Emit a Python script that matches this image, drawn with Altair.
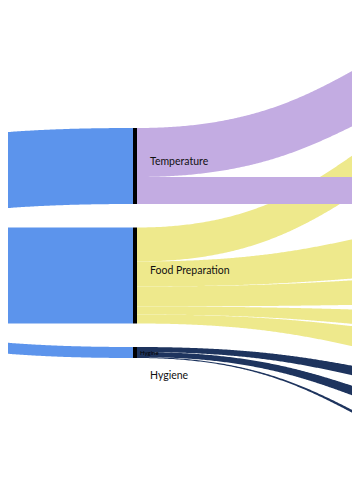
import altair as alt
import numpy as np
import pandas as pd

# ---------------- data ----------------
total_name = "All Violations"
categories = ["Temperature", "Food Preparation", "Hygiene"]
category_colors = ["#C3ACE2", "#EEE98C", "#1E345E"]
total_color = "#5C94EC"

# category -> sub-category flows (value at the category side)
link_source = ["Temperature", "Temperature",
               "Food Preparation", "Food Preparation", "Food Preparation",
               "Food Preparation", "Food Preparation",
               "Hygiene", "Hygiene", "Hygiene"]
link_target = ["Cold Holding", "Hot Holding",
               "Cross-Contamination", "Cooking", "Cooling", "Thawing", "Reheating",
               "Handwashing", "Glove Use", "Hair Restraints"]
link_value = [98, 54, 68, 50, 40, 16, 18, 10, 10, 2]

# sub-category nodes (right column, top to bottom) and their totals
sub_nodes = ["Cold Holding", "Cross-Contamination", "Hot Holding", "Cooking", "Cooling",
             "Thawing", "Reheating", "Handwashing", "Glove Use", "Hair Restraints"]
sub_node_value = [126, 98, 54, 112, 60, 44, 66, 30, 30, 10]

small_label = "Hygine"

# ---------------- layout (page pixel space) ----------------
PX = 0.5                      # pixels per unit
COL_LEFT, COL_MID, COL_RIGHT = -267, 133, 587
NODE_W = 4
LEFT_TOP = 151
MID_TOP, MID_PAD = 128, 23.5
RIGHT_TOP = 3
RIGHT_GAPS = [4, 58, 9, 4, 10, 5, 15, 23, 32]
X_MIN, X_MAX = 8, 352
Y_MIN, Y_MAX = 8, 478

cat_total = {c: sum(v for s, v in zip(link_source, link_value) if s == c) for c in categories}

# middle nodes
mid = {}
y = MID_TOP
for c in categories:
    h = cat_total[c] * PX
    mid[c] = [y, y + h]
    y += h + MID_PAD

# right nodes
right = {}
y = RIGHT_TOP
for i, n in enumerate(sub_nodes):
    h = sub_node_value[i] * PX
    right[n] = [y, y + h]
    y += h + (RIGHT_GAPS[i] if i < len(RIGHT_GAPS) else 0)


def ribbon(x0, x1, s_top, s_bot, t_top, t_bot, n=300):
    t = np.linspace(0, 1, n)
    xm = (x0 + x1) / 2
    x = (1 - t) ** 3 * x0 + 3 * (1 - t) ** 2 * t * xm + 3 * (1 - t) * t ** 2 * xm + t ** 3 * x1
    yf = 3 * t ** 2 - 2 * t ** 3
    top = s_top + (t_top - s_top) * yf
    bot = s_bot + (t_bot - s_bot) * yf
    keep = (x > X_MIN - 30) & (x < X_MAX + 30)
    return x[keep], top[keep], bot[keep]


rows = []
# total -> categories
sy = LEFT_TOP
for c in categories:
    h = cat_total[c] * PX
    xs, tp, bt = ribbon(COL_LEFT, COL_MID, sy, sy + h, mid[c][0], mid[c][1])
    for a, b, d in zip(xs, tp, bt):
        rows.append({"link": total_name + ">" + c, "group": total_name, "x": a, "y0": b, "y1": d})
    sy += h

# categories -> sub-categories
offset = {c: mid[c][0] for c in categories}
for s, t_, v in zip(link_source, link_target, link_value):
    h = v * PX
    s0 = offset[s]
    offset[s] += h
    xs, tp, bt = ribbon(COL_MID + NODE_W, COL_RIGHT, s0, s0 + h, right[t_][0], right[t_][1])
    for a, b, d in zip(xs, tp, bt):
        rows.append({"link": s + ">" + t_, "group": s, "x": a, "y0": b, "y1": d})

links_df = pd.DataFrame(rows)

nodes_df = pd.DataFrame({
    "name": categories,
    "x0": [COL_MID] * len(categories),
    "x1": [COL_MID + NODE_W] * len(categories),
    "top": [mid[c][0] for c in categories],
    "bottom": [mid[c][1] for c in categories],
})


def label_y(c):
    t0, t1 = mid[c]
    if t1 - t0 < 20:
        return t1 + 18
    return (t0 + t1) / 2 - 4.5


labels_df = pd.DataFrame({
    "name": categories,
    "x": [COL_MID + NODE_W + 13] * len(categories),
    "y": [label_y(c) for c in categories],
})
small_df = pd.DataFrame({"name": [small_label], "x": [COL_MID + NODE_W + 3],
                         "y": [(mid["Hygiene"][0] + mid["Hygiene"][1]) / 2]})

xs_ = alt.Scale(domain=[X_MIN, X_MAX], nice=False, zero=False)
ys_ = alt.Scale(domain=[Y_MIN, Y_MAX], nice=False, zero=False, reverse=True)
cscale = alt.Scale(domain=[total_name] + categories, range=[total_color] + category_colors)

base = alt.Chart(links_df)


def layer_for(group):
    return base.transform_filter(alt.datum.group == group).mark_area(
        clip=True, interpolate="linear", opacity=1
    ).encode(
        x=alt.X("x:Q", scale=xs_, axis=None),
        y=alt.Y("y0:Q", scale=ys_, axis=None),
        y2="y1:Q",
        color=alt.Color("group:N", scale=cscale, legend=None),
        detail="link:N",
    )


layers = [layer_for(total_name), layer_for("Food Preparation"),
          layer_for("Temperature"), layer_for("Hygiene")]

node_layer = alt.Chart(nodes_df).mark_rect(color="#000000", clip=True).encode(
    x=alt.X("x0:Q", scale=xs_, axis=None), x2="x1:Q",
    y=alt.Y("top:Q", scale=ys_, axis=None), y2="bottom:Q",
)

label_layer = alt.Chart(labels_df).mark_text(
    align="left", baseline="middle", font="Lato", fontSize=10.5, color="#111111"
).encode(
    x=alt.X("x:Q", scale=xs_, axis=None),
    y=alt.Y("y:Q", scale=ys_, axis=None),
    text="name:N",
)

small_layer = alt.Chart(small_df).mark_text(
    align="left", baseline="middle", font="Lato", fontSize=6, color="#000000"
).encode(
    x=alt.X("x:Q", scale=xs_, axis=None),
    y=alt.Y("y:Q", scale=ys_, axis=None),
    text="name:N",
)

chart = alt.layer(*layers, node_layer, label_layer, small_layer).properties(
    width=X_MAX - X_MIN, height=Y_MAX - Y_MIN, padding=0, background="white"
).configure_view(stroke=None)

chart.save("out.html", embed_options={"renderer": "svg", "actions": False})
